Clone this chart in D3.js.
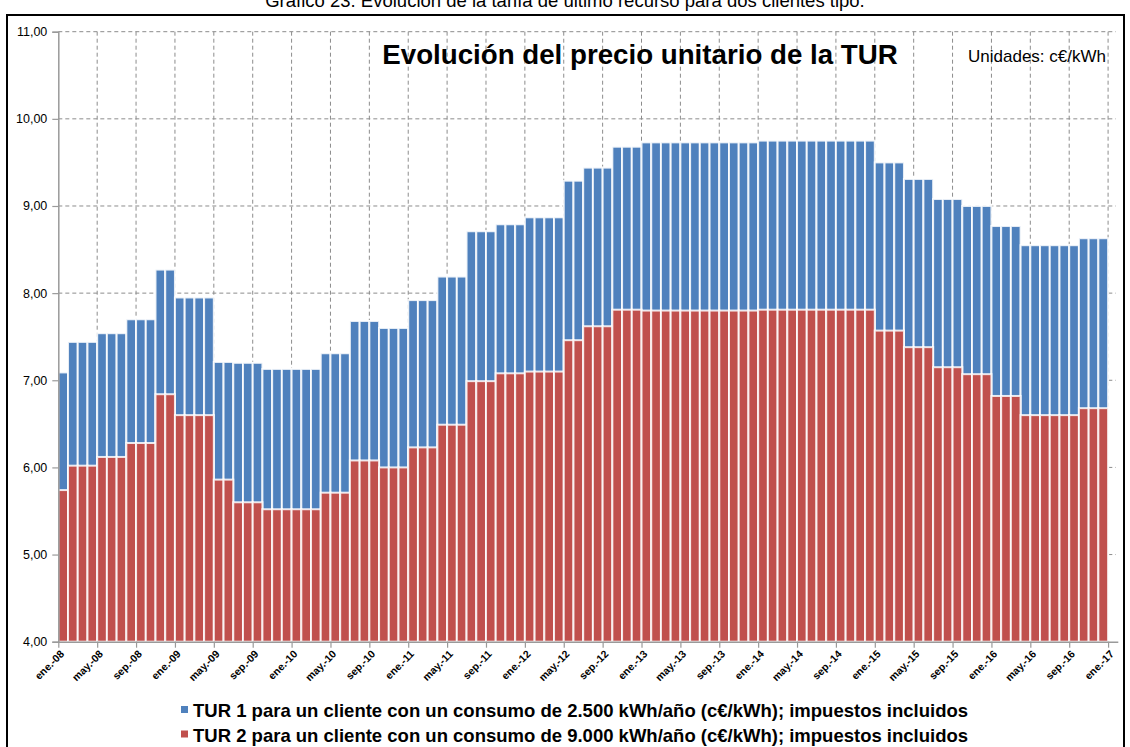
<!DOCTYPE html>
<html>
<head>
<meta charset="utf-8">
<script src="https://cdn.jsdelivr.net/npm/d3@7"></script>
<style>
  html, body { margin: 0; padding: 0; background: #fff; }
  svg { display: block; }
  text { font-family: "Liberation Sans", Arial, sans-serif; }
</style>
</head>
<body>
<svg id="chart" width="1130" height="747"></svg>
<script>
// ---------------- DATA ----------------
const monthNames = ["ene.", "feb.", "mar.", "abr.", "may.", "jun.", "jul.", "ago.", "sep.", "oct.", "nov.", "dic."];
const years = ["08", "09", "10", "11", "12", "13", "14", "15", "16", "17"];

const tickLabels = [
  "ene.-08", "may.-08", "sep.-08", "ene.-09", "may.-09", "sep.-09", "ene.-10",
  "may.-10", "sep.-10", "ene.-11", "may.-11", "sep.-11", "ene.-12", "may.-12",
  "sep.-12", "ene.-13", "may.-13", "sep.-13", "ene.-14", "may.-14", "sep.-14",
  "ene.-15", "may.-15", "sep.-15", "ene.-16", "may.-16", "sep.-16", "ene.-17"
];

const yTicks = [4, 5, 6, 7, 8, 9, 10, 11];

// TUR 1 (2.500 kWh/año), c€/kWh, monthly from ene.-08 to dic.-16 (ene.-17 empty)
const tur1 = [
  7.09, 7.44, 7.44, 7.44, 7.54, 7.54, 7.54, 7.70, 7.70, 7.70, 8.27, 8.27,   // 2008
  7.95, 7.95, 7.95, 7.95, 7.21, 7.21, 7.20, 7.20, 7.20, 7.13, 7.13, 7.13,   // 2009
  7.13, 7.13, 7.13, 7.31, 7.31, 7.31, 7.68, 7.68, 7.68, 7.60, 7.60, 7.60,   // 2010
  7.92, 7.92, 7.92, 8.19, 8.19, 8.19, 8.71, 8.71, 8.71, 8.79, 8.79, 8.79,   // 2011
  8.87, 8.87, 8.87, 8.87, 9.29, 9.29, 9.44, 9.44, 9.44, 9.68, 9.68, 9.68,   // 2012
  9.73, 9.73, 9.73, 9.73, 9.73, 9.73, 9.73, 9.73, 9.73, 9.73, 9.73, 9.73,   // 2013
  9.75, 9.75, 9.75, 9.75, 9.75, 9.75, 9.75, 9.75, 9.75, 9.75, 9.75, 9.75,   // 2014
  9.50, 9.50, 9.50, 9.31, 9.31, 9.31, 9.08, 9.08, 9.08, 9.00, 9.00, 9.00,   // 2015
  8.77, 8.77, 8.77, 8.55, 8.55, 8.55, 8.55, 8.55, 8.55, 8.63, 8.63, 8.63,   // 2016
  null                                                                        // ene.-17
];

// TUR 2 (9.000 kWh/año), c€/kWh
const tur2 = [
  5.74, 6.02, 6.02, 6.02, 6.12, 6.12, 6.12, 6.28, 6.28, 6.28, 6.84, 6.84,   // 2008
  6.60, 6.60, 6.60, 6.60, 5.86, 5.86, 5.60, 5.60, 5.60, 5.52, 5.52, 5.52,   // 2009
  5.52, 5.52, 5.52, 5.71, 5.71, 5.71, 6.08, 6.08, 6.08, 6.00, 6.00, 6.00,   // 2010
  6.23, 6.23, 6.23, 6.49, 6.49, 6.49, 6.99, 6.99, 6.99, 7.08, 7.08, 7.08,   // 2011
  7.10, 7.10, 7.10, 7.10, 7.46, 7.46, 7.62, 7.62, 7.62, 7.81, 7.81, 7.81,   // 2012
  7.80, 7.80, 7.80, 7.80, 7.80, 7.80, 7.80, 7.80, 7.80, 7.80, 7.80, 7.80,   // 2013
  7.81, 7.81, 7.81, 7.81, 7.81, 7.81, 7.81, 7.81, 7.81, 7.81, 7.81, 7.81,   // 2014
  7.57, 7.57, 7.57, 7.38, 7.38, 7.38, 7.15, 7.15, 7.15, 7.07, 7.07, 7.07,   // 2015
  6.82, 6.82, 6.82, 6.60, 6.60, 6.60, 6.60, 6.60, 6.60, 6.68, 6.68, 6.68,   // 2016
  null                                                                        // ene.-17
];

const seriesNames = [
  "TUR 1 para un cliente con un consumo de 2.500 kWh/año (c€/kWh); impuestos incluidos",
  "TUR 2 para un cliente con un consumo de 9.000 kWh/año (c€/kWh); impuestos incluidos"
];
const colors = ["#4F81BD", "#C0504D"];

const figureTitle = "Gráfico 23. Evolución de la tarifa de último recurso para dos clientes tipo.";
const chartTitle = "Evolución del precio unitario de la TUR";
const unitsLabel = "Unidades: c€/kWh";

// ---------------- BUILD ----------------
const categories = [];
years.forEach(yr => monthNames.forEach(m => { if (categories.length < tur1.length) categories.push(m + "-" + yr); }));

const svg = d3.select("#chart");

// Top (partially cut, as in the source page) figure caption
svg.append("text")
  .attr("x", 565).attr("y", 7)
  .attr("text-anchor", "middle")
  .attr("font-size", 18.5)
  .attr("fill", "#000")
  .text(figureTitle);

// Frame
svg.append("rect")
  .attr("x", 7).attr("y", 15).attr("width", 1117).attr("height", 745)
  .attr("fill", "#fff").attr("stroke", "#000").attr("stroke-width", 2);

const plot = { left: 58.3, right: 1117.8, top: 31.7, bottom: 641.7 };

const x = d3.scaleBand().domain(categories).range([plot.left, plot.right]).paddingInner(0).paddingOuter(0);
const xPos = d3.scaleLinear().domain([0, categories.length]).range([plot.left, plot.right]);
const y = d3.scaleLinear().domain([4, 11]).range([plot.bottom, plot.top]);

const tickIdx = tickLabels.map((_, i) => i * 4);

// Gridlines
const grid = svg.append("g").attr("stroke", "#8c8c8c").attr("stroke-width", 1).attr("stroke-dasharray", "4,3").attr("fill", "none");
yTicks.filter(v => v > 4).forEach(v => {
  grid.append("line").attr("x1", plot.left).attr("x2", plot.right - 2).attr("y1", y(v)).attr("y2", y(v));
});
tickIdx.filter(i => i > 0).forEach(i => {
  grid.append("line").attr("x1", xPos(i)).attr("x2", xPos(i)).attr("y1", plot.top).attr("y2", plot.bottom);
});

// Bars: TUR 1 behind, TUR 2 in front
[tur1, tur2].forEach((series, s) => {
  svg.append("g").selectAll("rect")
    .data(categories.map((c, i) => ({ c, v: series[i] })).filter(d => d.v != null))
    .join("rect")
    .attr("x", d => x(d.c))
    .attr("width", x.bandwidth())
    .attr("y", d => y(d.v))
    .attr("height", d => y(4) - y(d.v))
    .attr("fill", colors[s])
    .attr("stroke", "#ffffff")
    .attr("stroke-opacity", 0.85)
    .attr("stroke-width", 2);
});

// Y axis
const yAxis = svg.append("g").attr("transform", `translate(${plot.left},0)`)
  .call(d3.axisLeft(y).tickValues(yTicks).tickSize(6).tickPadding(5)
    .tickFormat(d => d3.format(".2f")(d).replace(".", ",")));
yAxis.select(".domain").attr("stroke", "#9a9a9a").attr("stroke-width", 1.5);
yAxis.selectAll(".tick line").attr("stroke", "#9a9a9a").attr("stroke-width", 1.2);
yAxis.selectAll(".tick text").attr("font-size", 12.5).attr("fill", "#000").attr("font-family", "Liberation Sans, Arial, sans-serif");

// X axis
const xAxis = svg.append("g").attr("transform", `translate(0,${plot.bottom})`)
  .call(d3.axisBottom(xPos).tickValues(tickIdx).tickSize(6).tickSizeOuter(0)
    .tickFormat((d, i) => tickLabels[i]));
xAxis.select(".domain").attr("stroke", "#9a9a9a").attr("stroke-width", 1.5);
xAxis.selectAll(".tick line").attr("stroke", "#9a9a9a").attr("stroke-width", 1.2);
xAxis.selectAll(".tick text")
  .attr("font-size", 10.5).attr("font-weight", "bold").attr("fill", "#000")
  .attr("font-family", "Liberation Sans, Arial, sans-serif")
  .attr("text-anchor", "end")
  .attr("dy", null).attr("y", 0)
  .attr("transform", "translate(6,13) rotate(-45)");

// Chart title
svg.append("text")
  .attr("x", 640).attr("y", 64)
  .attr("text-anchor", "middle")
  .attr("font-size", 27.7).attr("font-weight", "bold").attr("fill", "#000")
  .text(chartTitle);

svg.append("text")
  .attr("x", 1106).attr("y", 62)
  .attr("text-anchor", "end")
  .attr("font-size", 17).attr("fill", "#000")
  .text(unitsLabel);

// Legend
const legend = svg.append("g");
seriesNames.forEach((name, i) => {
  const ly = 711 + i * 24.5;
  legend.append("rect").attr("x", 181).attr("y", ly - 5).attr("width", 7).attr("height", 7).attr("fill", colors[i]);
  legend.append("text").attr("x", 193).attr("y", ly + 6)
    .attr("font-size", 18.5).attr("font-weight", "bold").attr("fill", "#000")
    .text(name);
});
</script>
</body>
</html>
